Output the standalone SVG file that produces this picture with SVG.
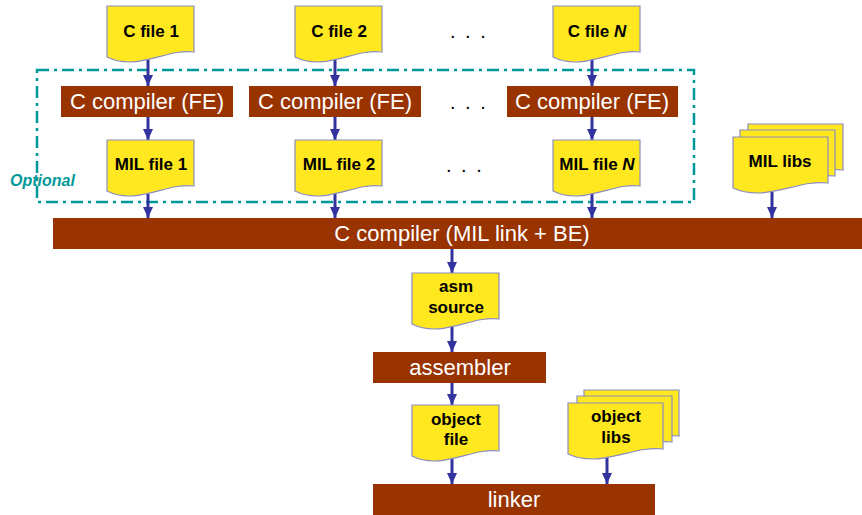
<svg xmlns="http://www.w3.org/2000/svg" width="862" height="515" viewBox="0 0 862 515">
<style>
.doc{fill:#FFE81F;stroke:#8C8CC0;stroke-width:1.2}
.proc{fill:#993300}
.dt{font-family:"Liberation Sans",Arial,sans-serif;font-weight:bold;font-size:17px;fill:#000;text-anchor:middle}
.pt{font-family:"Liberation Sans",Arial,sans-serif;font-size:22px;fill:#fff;text-anchor:middle}
.dots{font-family:"Liberation Sans",Arial,sans-serif;font-size:20px;fill:#000;letter-spacing:2px}
.conn{stroke:#3333A0;stroke-width:3;fill:none;marker-end:url(#ah)}
</style>
<defs>
<marker id="ah" markerUnits="userSpaceOnUse" markerWidth="12" markerHeight="10" refX="11" refY="5" orient="auto">
<path d="M0,0 L11,5 L0,10 Z" fill="#3333A0"/>
</marker>
<path id="d87" d="M0,0 H87 V46 C60,42 30,66 0,51 Z"/>
<path id="d95" d="M0,0 H95 V46 C65,42 33,66 0,51 Z"/>
</defs>
<rect x="0" y="0" width="862" height="515" fill="#fff"/>

<g id="optional-region">
<rect x="37" y="70" width="657" height="132" fill="none" stroke="#009999" stroke-width="2.5" stroke-dasharray="12,5,3,5"/>
<text x="10" y="186" font-family="Liberation Sans,Arial,sans-serif" font-size="16" font-weight="bold" font-style="italic" fill="#009999">Optional</text>
</g>

<g id="connectors">
<line class="conn" x1="148" y1="60" x2="148" y2="86"/>
<line class="conn" x1="335" y1="60" x2="335" y2="86"/>
<line class="conn" x1="592" y1="60" x2="592" y2="86"/>
<line class="conn" x1="148" y1="117" x2="148" y2="140"/>
<line class="conn" x1="335" y1="117" x2="335" y2="140"/>
<line class="conn" x1="592" y1="117" x2="592" y2="140"/>
<line class="conn" x1="148" y1="194" x2="148" y2="218"/>
<line class="conn" x1="335" y1="194" x2="335" y2="218"/>
<line class="conn" x1="592" y1="194" x2="592" y2="218"/>
<line class="conn" x1="772" y1="192" x2="772" y2="218"/>
<line class="conn" x1="452" y1="249" x2="452" y2="273"/>
<line class="conn" x1="452" y1="326" x2="452" y2="352"/>
<line class="conn" x1="452" y1="383" x2="452" y2="405"/>
<line class="conn" x1="452" y1="459" x2="452" y2="484"/>
<line class="conn" x1="607" y1="457" x2="607" y2="484"/>
</g>

<g id="cfile1"><use href="#d87" x="107" y="6" class="doc"/><text class="dt" x="151" y="37">C file 1</text></g>
<g id="cfile2"><use href="#d87" x="295" y="6" class="doc"/><text class="dt" x="339" y="37">C file 2</text></g>
<g id="cfileN"><use href="#d87" x="553" y="6" class="doc"/><text class="dt" x="597" y="37">C file <tspan font-style="italic">N</tspan></text></g>

<g id="dots"><text class="dots" x="450" y="38">. . .</text><text class="dots" x="450" y="109">. . .</text><text class="dots" x="446" y="172">. . .</text></g>

<g id="fe1"><rect class="proc" x="61" y="86" width="172" height="31"/><text class="pt" x="147" y="109">C compiler (FE)</text></g>
<g id="fe2"><rect class="proc" x="249" y="86" width="172" height="31"/><text class="pt" x="335" y="109">C compiler (FE)</text></g>
<g id="feN"><rect class="proc" x="507" y="86" width="171" height="31"/><text class="pt" x="592" y="109">C compiler (FE)</text></g>

<g id="mil1"><use href="#d87" x="107" y="140" class="doc"/><text class="dt" x="151" y="170">MIL file 1</text></g>
<g id="mil2"><use href="#d87" x="295" y="140" class="doc"/><text class="dt" x="339" y="170">MIL file 2</text></g>
<g id="milN"><use href="#d87" x="553" y="140" class="doc"/><text class="dt" x="597" y="170">MIL file <tspan font-style="italic">N</tspan></text></g>

<g id="millibs">
<use href="#d95" x="748" y="124" class="doc"/>
<use href="#d95" x="740" y="130" class="doc"/>
<use href="#d95" x="733" y="137" class="doc"/>
<text class="dt" x="780" y="167">MIL libs</text>
</g>

<g id="be"><rect class="proc" x="53" y="218" width="809" height="31"/><text class="pt" x="462" y="241">C compiler (MIL link + BE)</text></g>

<g id="asm"><use href="#d87" x="412" y="273" class="doc"/><text class="dt" x="456" y="292">asm</text><text class="dt" x="456" y="313">source</text></g>

<g id="assembler"><rect class="proc" x="373" y="352" width="173" height="31"/><text class="pt" x="460" y="375">assembler</text></g>

<g id="objfile"><use href="#d87" x="412" y="405" class="doc"/><text class="dt" x="456" y="425">object</text><text class="dt" x="456" y="445">file</text></g>

<g id="objlibs">
<use href="#d95" x="584" y="390" class="doc"/>
<use href="#d95" x="577" y="396" class="doc"/>
<use href="#d95" x="568" y="403" class="doc"/>
<text class="dt" x="616" y="422">object</text><text class="dt" x="616" y="443">libs</text>
</g>

<g id="linker"><rect class="proc" x="373" y="484" width="282" height="31"/><text class="pt" x="514" y="507">linker</text></g>
</svg>
